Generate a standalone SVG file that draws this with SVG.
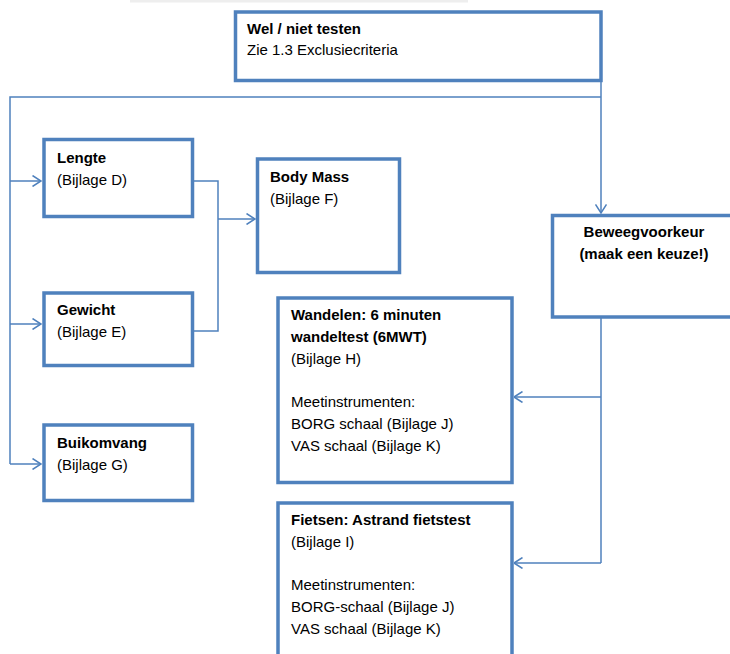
<svg xmlns="http://www.w3.org/2000/svg" width="730" height="654" viewBox="0 0 730 654">
<defs>
<style>
.box{fill:#ffffff;stroke:#4F81BD;stroke-width:3.5}
.con{fill:none;stroke:#4F81BD;stroke-width:1.5}
text{font-family:"Liberation Sans",Arial,sans-serif;font-size:15px;fill:#000}
.b{font-weight:bold}
</style>
<marker id="arr" viewBox="0 0 10 12" refX="9.5" refY="6" markerWidth="10" markerHeight="12" markerUnits="userSpaceOnUse" orient="auto">
<path d="M1,0.5 L9.5,6 L1,11.5" fill="none" stroke="#4F81BD" stroke-width="1.5"/>
</marker>
</defs>
<rect x="130" y="0" width="338" height="2.5" fill="#eeeeee"/>
<g id="connectors">
<polyline class="con" points="601,81 601,213" marker-end="url(#arr)"/>
<polyline class="con" points="601,97 10,97 10,464"/>
<line class="con" x1="10" y1="181" x2="41" y2="181" marker-end="url(#arr)"/>
<line class="con" x1="10" y1="324" x2="41" y2="324" marker-end="url(#arr)"/>
<line class="con" x1="10" y1="464" x2="41" y2="464" marker-end="url(#arr)"/>
<polyline class="con" points="194,181 218,181 218,331 194,331"/>
<line class="con" x1="218" y1="219" x2="255" y2="219" marker-end="url(#arr)"/>
<polyline class="con" points="601,318 601,563"/>
<line class="con" x1="601" y1="397" x2="514" y2="397" marker-end="url(#arr)"/>
<line class="con" x1="601" y1="563" x2="514" y2="563" marker-end="url(#arr)"/>
</g>
<g id="wel-niet-testen">
<rect class="box" x="235.5" y="12" width="365.5" height="68.5"/>
<text class="b" x="247" y="34">Wel / niet testen</text>
<text x="247" y="55">Zie 1.3 Exclusiecriteria</text>
</g>
<g id="lengte">
<rect class="box" x="44" y="139.5" width="148.5" height="77"/>
<text class="b" x="57" y="163">Lengte</text>
<text x="57" y="185">(Bijlage D)</text>
</g>
<g id="gewicht">
<rect class="box" x="44" y="293" width="148.5" height="72.5"/>
<text class="b" x="57" y="315">Gewicht</text>
<text x="57" y="337">(Bijlage E)</text>
</g>
<g id="buikomvang">
<rect class="box" x="44" y="425" width="148.5" height="75.5"/>
<text class="b" x="57" y="448">Buikomvang</text>
<text x="57" y="470">(Bijlage G)</text>
</g>
<g id="body-mass">
<rect class="box" x="257.5" y="159" width="142" height="113.5"/>
<text class="b" x="270" y="182">Body Mass</text>
<text x="270" y="204">(Bijlage F)</text>
</g>
<g id="beweegvoorkeur">
<rect class="box" x="552.5" y="215.5" width="185" height="101.5"/>
<text class="b" x="644" y="237" text-anchor="middle">Beweegvoorkeur</text>
<text class="b" x="644" y="259" text-anchor="middle">(maak een keuze!)</text>
</g>
<g id="wandelen">
<rect class="box" x="278" y="298" width="234" height="184.5"/>
<text class="b" x="291" y="320">Wandelen: 6 minuten</text>
<text class="b" x="291" y="342">wandeltest (6MWT)</text>
<text x="291" y="364">(Bijlage H)</text>
<text x="291" y="407">Meetinstrumenten:</text>
<text x="291" y="429">BORG schaal (Bijlage J)</text>
<text x="291" y="451">VAS schaal (Bijlage K)</text>
</g>
<g id="fietsen">
<rect class="box" x="278" y="503" width="234" height="160"/>
<text class="b" x="291" y="525">Fietsen: Astrand fietstest</text>
<text x="291" y="547">(Bijlage I)</text>
<text x="291" y="590">Meetinstrumenten:</text>
<text x="291" y="612">BORG-schaal (Bijlage J)</text>
<text x="291" y="634">VAS schaal (Bijlage K)</text>
</g>
</svg>
